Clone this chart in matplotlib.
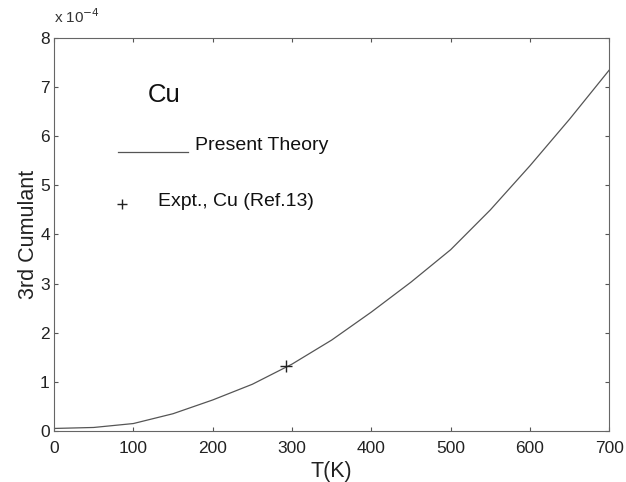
import matplotlib.pyplot as plt

# values (3rd cumulant in units of 1e-4)
temps = [0, 50, 100, 150, 200, 250, 300, 350, 400, 450, 500, 550, 600, 650, 700]
cumulant = [0.05, 0.07, 0.15, 0.35, 0.63, 0.95, 1.36, 1.85, 2.42, 3.03, 3.69, 4.5, 5.4, 6.35, 7.35]
expt_t = [293]
expt_c = [1.32]

plt.rcParams['font.family'] = ['Liberation Sans', 'DejaVu Sans']

fig = plt.figure(figsize=(6.26, 4.82), dpi=100)
ax = fig.add_axes([0.0863, 0.106, 0.887, 0.815])

ax.plot(temps, cumulant, color='#555555', lw=0.9)
ax.plot(expt_t, expt_c, '+', color='#222222', ms=8, mew=1.0)

ax.set_xlim(0, 700)
ax.set_ylim(0, 8)
ax.set_xticks(range(0, 701, 100))
ax.set_yticks(range(0, 9))
ax.tick_params(direction='in', top=True, right=True, labelsize=12.5,
               length=3, color='#555555', labelcolor='#222222', pad=3)
ax.tick_params(axis='x', pad=7)
for s in ax.spines.values():
    s.set_color('#666666')
    s.set_linewidth(0.8)

ax.set_xlabel('T(K)', fontsize=15.5, color='#222222', labelpad=4)
ax.set_ylabel('3rd Cumulant', fontsize=15.5, color='#222222', labelpad=1)
ax.text(0.0, 1.03, r'x 10$^{-4}$', transform=ax.transAxes, fontsize=11,
        color='#333333', va='bottom', ha='left')

# in-plot legend, as in the original figure
ax.text(0.169, 0.855, 'Cu', transform=ax.transAxes, fontsize=18.5,
        va='center', ha='left', color='#111111')
ax.plot([0.115, 0.241], [0.71, 0.71], transform=ax.transAxes,
        color='#555555', lw=0.9)
ax.text(0.254, 0.727, 'Present Theory', transform=ax.transAxes, fontsize=14,
        va='center', ha='left', color='#111111')
ax.plot([0.122], [0.577], '+', transform=ax.transAxes, color='#222222', ms=7, mew=1.0)
ax.text(0.187, 0.585, 'Expt., Cu (Ref.13)', transform=ax.transAxes, fontsize=14,
        va='center', ha='left', color='#111111')

fig.savefig('out.png', dpi=100)
